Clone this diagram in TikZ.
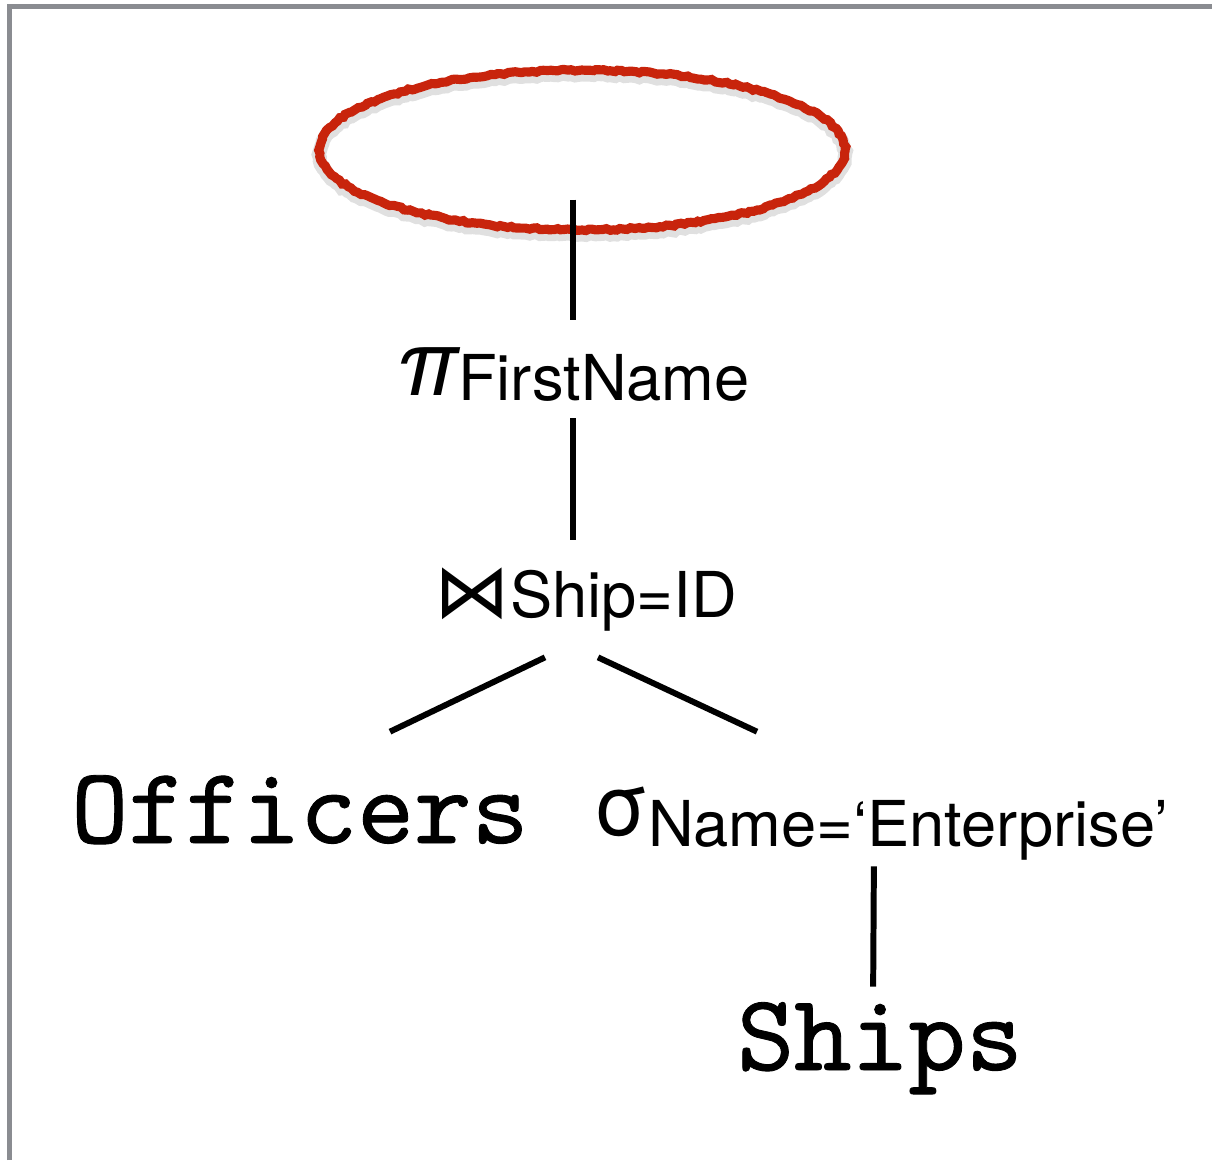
\documentclass[tikz,border=0pt]{standalone}
\usepackage{fontspec}
\usepackage{tikz}
\usetikzlibrary{shapes.geometric,decorations.pathmorphing}
\setmainfont{TeX Gyre Heros}
\newfontfamily\relfamily[FakeBold=0.8]{lmmono10-regular.otf}
\newfontfamily\symfamily{DejaVu Sans}
\definecolor{haloRed}{RGB}{200,36,12}
\definecolor{frameGray}{RGB}{138,140,145}

\newcommand{\pisym}{{\fontsize{52pt}{60pt}\selectfont\itshape π}}
\newcommand{\joinsym}{{\symfamily\fontsize{43pt}{50pt}\selectfont ⋈}}
\newcommand{\sigsym}{{\fontsize{48pt}{54pt}\selectfont σ}}

\tikzset{
  opnode/.style={anchor=base, inner sep=0pt, font=\fontsize{36pt}{40pt}\selectfont},
  relnode/.style={anchor=base, inner sep=0pt, font=\relfamily\fontsize{62pt}{68pt}\selectfont},
  edge/.style={line width=3.4pt, black},
  halo/.style={ellipse, draw=haloRed, line width=5.2pt,
    minimum width=10.52cm, minimum height=3.2cm, inner sep=0pt,
    decorate, decoration={random steps, segment length=2pt, amplitude=0.6pt},
    preaction={draw=black, draw opacity=0.12, line width=8pt,
      transform canvas={yshift=-2.5pt}}},
  frame/.style={draw=frameGray, line width=2.85pt},
}

\begin{document}
\begin{tikzpicture}[x=0.02cm, y=-0.02cm]
\useasboundingbox (0,0) rectangle (1212,1160);
\draw[frame] (9.8,1160) -- (9.8,6.5) -- (1212,6.5);

% query tree
\node[halo] (res) at (582,150) {};
\node[opnode, text height=1cm, text depth=0.1cm] (proj) at (573,395)
  {\pisym\raisebox{-0.1cm}{FirstName}};
\node[opnode, text height=1.04cm, text depth=0.3cm] (join) at (586,617)
  {\joinsym Ship=ID};
\node[relnode, text height=1.2cm, text depth=0cm] (off) at (300,843) {Officers};
\node[opnode, text height=0.9cm, text depth=0.22cm] (sel) at (881,835)
  {\sigsym\raisebox{-0.22cm}{Name=‘Enterprise’}};
\node[relnode, text height=1.2cm, text depth=0cm] (ships) at (880,1070) {Ships};

\draw[edge, shorten <=-0.7cm, shorten >=0.5cm] (proj.north |- res.south) -- (proj.north);
\draw[edge, shorten <=0.36cm, shorten >=0.5cm] (proj.south) -- (proj.south |- join.north);
\draw[edge] ([shift={(-41,25)}]join.south) -- ([shift={(90,-51)}]off.north);
\draw[edge] ([shift={(12,25)}]join.south) -- ([shift={(-124,-58)}]sel.north);
\draw[edge, shorten <=0.4cm, shorten >=0.46cm] ([xshift=-0.14cm]sel.south) -- ([xshift=-0.14cm]ships.north);
\end{tikzpicture}
\end{document}
